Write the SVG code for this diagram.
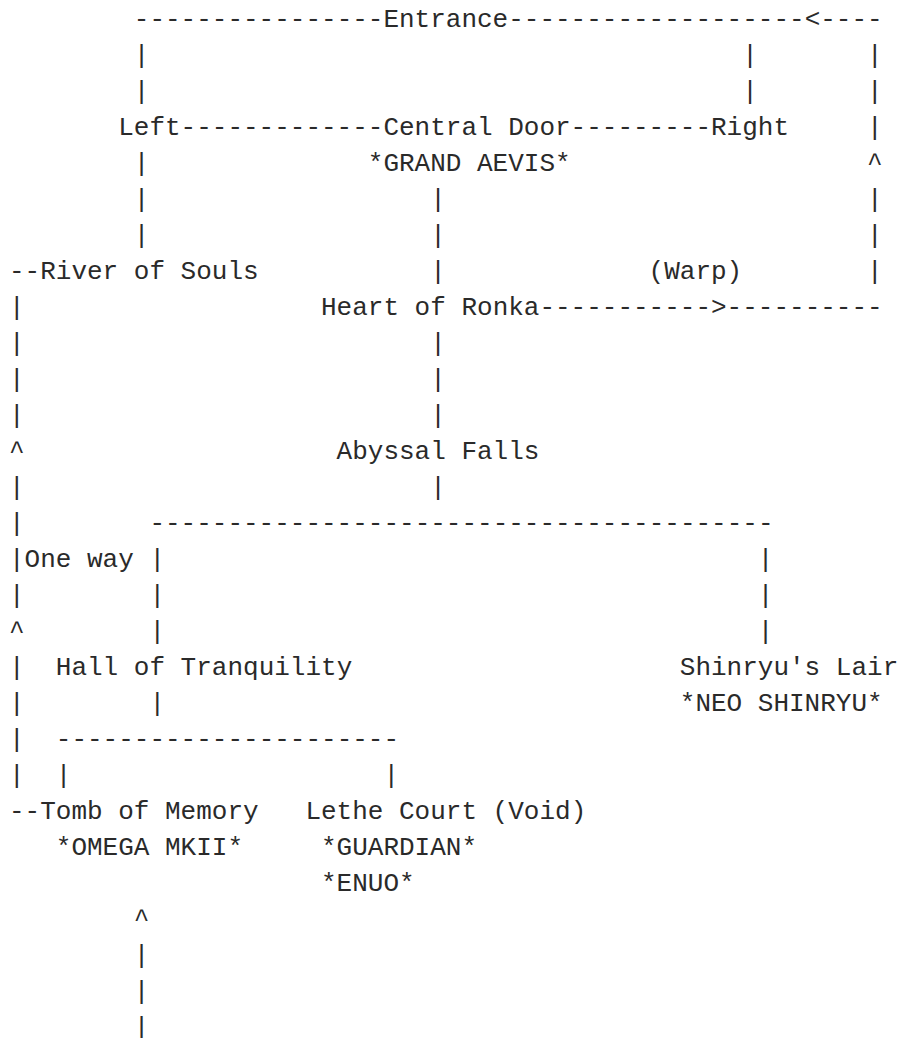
<svg xmlns="http://www.w3.org/2000/svg" width="899" height="1038" viewBox="0 0 899 1038" xml:space="preserve">
<style>
text { font-family: "Liberation Mono", "Courier New", monospace; font-size: 26px; fill: #2a2a2a; white-space: pre; }
</style>
<rect x="0" y="0" width="899" height="1038" fill="#ffffff"/>
<g id="connectors">
<text x="133.8" y="27">----------------</text>
<text x="508.2" y="27">-------------------&lt;----</text>
<text x="133.8" y="63">|</text><text x="742.2" y="63">|</text><text x="867" y="63">|</text>
<text x="133.8" y="99">|</text><text x="742.2" y="99">|</text><text x="867" y="99">|</text>
<text x="180.6" y="135">-------------</text>
<text x="570.6" y="135">---------</text>
<text x="867" y="135">|</text>
<text x="133.8" y="171">|</text><text x="867" y="171">^</text>
<text x="133.8" y="207">|</text><text x="430.2" y="207">|</text><text x="867" y="207">|</text>
<text x="133.8" y="243">|</text><text x="430.2" y="243">|</text><text x="867" y="243">|</text>
<text x="9" y="279">--</text><text x="430.2" y="279">|</text><text x="867" y="279">|</text>
<text x="9" y="315">|</text>
<text x="539.4" y="315">-----------&gt;----------</text>
<text x="9" y="351">|</text><text x="430.2" y="351">|</text>
<text x="9" y="387">|</text><text x="430.2" y="387">|</text>
<text x="9" y="423">|</text><text x="430.2" y="423">|</text>
<text x="9" y="459">^</text>
<text x="9" y="495">|</text><text x="430.2" y="495">|</text>
<text x="9" y="531">|</text><text x="149.4" y="531">----------------------------------------</text>
<text x="9" y="567">|</text><text x="149.4" y="567">|</text><text x="757.8" y="567">|</text>
<text x="9" y="603">|</text><text x="149.4" y="603">|</text><text x="757.8" y="603">|</text>
<text x="9" y="639">^</text><text x="149.4" y="639">|</text><text x="757.8" y="639">|</text>
<text x="9" y="675">|</text>
<text x="9" y="711">|</text><text x="149.4" y="711">|</text>
<text x="9" y="747">|</text><text x="55.8" y="747">----------------------</text>
<text x="9" y="783">|</text><text x="55.8" y="783">|</text><text x="383.4" y="783">|</text>
<text x="9" y="819">--</text>
<text x="133.8" y="927">^</text>
<text x="133.8" y="963">|</text>
<text x="133.8" y="999">|</text>
<text x="133.8" y="1035">|</text>
</g>
<g id="node-entrance"><text x="383.4" y="27">Entrance</text></g>
<g id="node-left"><text x="118.2" y="135">Left</text></g>
<g id="node-central-door"><text x="383.4" y="135">Central Door</text><text x="367.8" y="171">*GRAND AEVIS*</text></g>
<g id="node-right"><text x="711" y="135">Right</text></g>
<g id="node-river-of-souls"><text x="40.2" y="279">River of Souls</text></g>
<g id="node-warp"><text x="648.6" y="279">(Warp)</text></g>
<g id="node-heart-of-ronka"><text x="321" y="315">Heart of Ronka</text></g>
<g id="node-abyssal-falls"><text x="336.6" y="459">Abyssal Falls</text></g>
<g id="node-one-way"><text x="24.6" y="567">One way</text></g>
<g id="node-hall-of-tranquility"><text x="55.8" y="675">Hall of Tranquility</text></g>
<g id="node-shinryus-lair"><text x="679.8" y="675">Shinryu's Lair</text><text x="679.8" y="711">*NEO SHINRYU*</text></g>
<g id="node-tomb-of-memory"><text x="40.2" y="819">Tomb of Memory</text><text x="55.8" y="855">*OMEGA MKII*</text></g>
<g id="node-lethe-court"><text x="305.4" y="819">Lethe Court (Void)</text><text x="321" y="855">*GUARDIAN*</text><text x="321" y="891">*ENUO*</text></g>
</svg>
